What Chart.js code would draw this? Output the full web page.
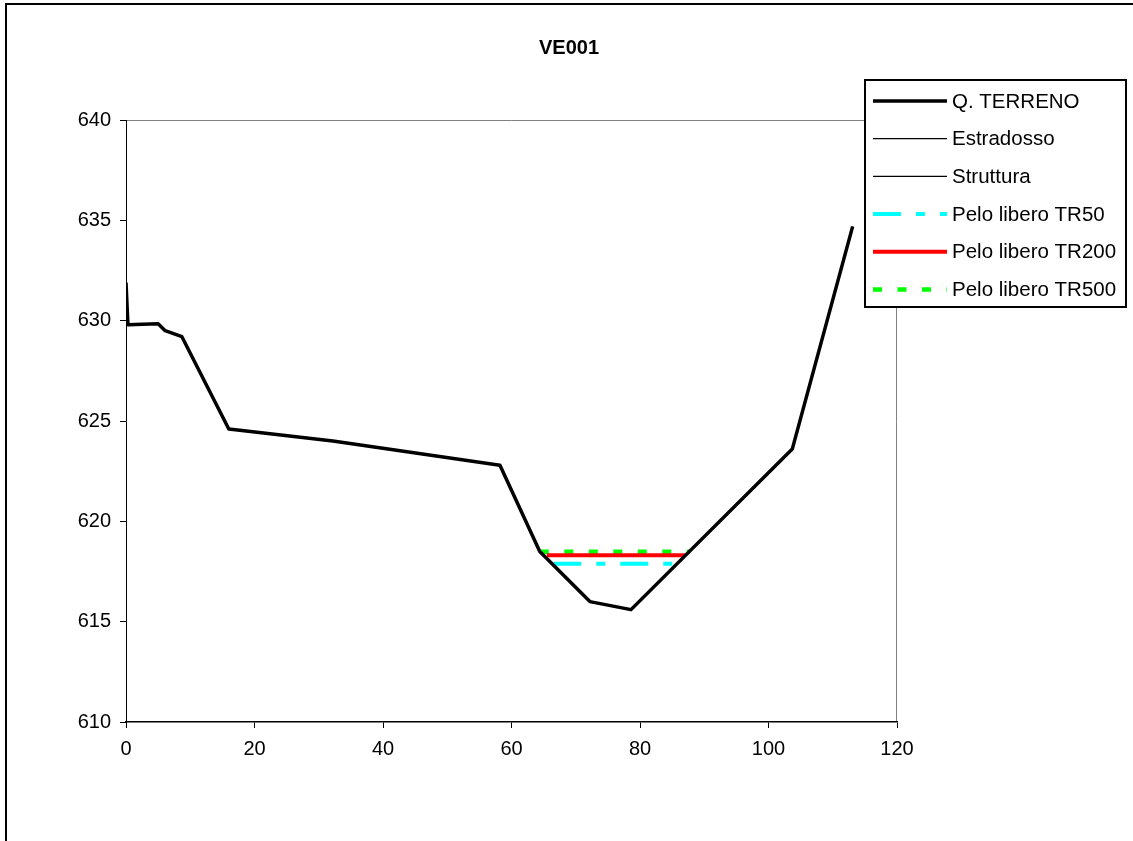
<!DOCTYPE html>
<html>
<head>
<meta charset="utf-8">
<script src="https://cdn.jsdelivr.net/npm/chart.js@4/dist/chart.umd.min.js"></script>
<style>
  html, body { margin: 0; padding: 0; background: #fff; }
  #wrap { width: 1133px; height: 841px; position: relative; }
</style>
</head>
<body>
<div id="wrap"><canvas id="sezione" width="1133" height="841"></canvas></div>
<script>
/* sezione VE001 */
const titolo = "VE001";

const terrenoX = [0, 0.3, 5.0, 6.1, 8.7, 16.0, 32.2, 58.2, 64.4, 72.2, 78.6, 103.7, 113.1];
const terrenoY = [631.9, 629.8, 629.85, 629.5, 629.2, 624.6, 624.0, 622.8, 618.5, 616.0, 615.6, 623.6, 634.7];

const tr50X = [66.5, 85.2];
const tr50Y = [617.88, 617.88];
const tr200X = [65.5, 87.0];
const tr200Y = [618.31, 618.31];
const tr500X = [64.4, 87.7];
const tr500Y = [618.48, 618.48];

const xTicks = [0, 20, 40, 60, 80, 100, 120];
const yTicks = [610, 615, 620, 625, 630, 635, 640];

const pts = (xs, ys) => xs.map((x, i) => ({ x, y: ys[i] }));

Chart.defaults.font.family = "'Liberation Sans', Arial, sans-serif";
Chart.defaults.font.size = 20;
Chart.defaults.color = "#000";

/* cornice, titolo, bordo area grafico */
const decor = {
  id: "decor",
  beforeDraw(chart) {
    const c = chart.ctx, a = chart.chartArea;
    c.save();
    c.fillStyle = "#fff";
    c.fillRect(0, 0, chart.width, chart.height);
    c.strokeStyle = "#000";
    c.lineWidth = 2;
    c.beginPath();
    c.moveTo(6, chart.height);
    c.lineTo(6, 4);
    c.lineTo(chart.width, 4);
    c.stroke();
    c.strokeStyle = "#808080";
    c.lineWidth = 1;
    c.beginPath();
    c.moveTo(a.left, a.top + 0.5);
    c.lineTo(a.right - 0.5, a.top + 0.5);
    c.lineTo(a.right - 0.5, a.bottom);
    c.stroke();
    c.fillStyle = "#000";
    c.font = "bold 20px 'Liberation Sans', Arial";
    c.textAlign = "center";
    c.textBaseline = "middle";
    c.fillText(titolo, 569, 48);
    c.restore();
  }
};

/* legenda a destra, sovrapposta */
const legenda = {
  id: "legenda",
  afterDraw(chart) {
    const c = chart.ctx;
    const bx = 865, by = 80, bw = 261, bh = 227;
    c.save();
    c.fillStyle = "#fff";
    c.fillRect(bx, by, bw, bh);
    c.strokeStyle = "#000";
    c.lineWidth = 2;
    c.strokeRect(bx, by, bw, bh);
    chart.data.datasets.forEach((ds, i) => {
      const y = 101 + i * 37.7;
      c.strokeStyle = ds.borderColor;
      c.lineWidth = ds.borderWidth;
      c.setLineDash(ds.borderDash || []);
      c.beginPath();
      c.moveTo(873, y);
      c.lineTo(947, y);
      c.stroke();
      c.setLineDash([]);
      c.fillStyle = "#000";
      c.font = "20.5px 'Liberation Sans', Arial";
      c.textAlign = "left";
      c.textBaseline = "middle";
      c.fillText(ds.label, 952, y + 1);
    });
    c.restore();
  }
};

new Chart(document.getElementById("sezione"), {
  type: "line",
  data: {
    datasets: [
      { label: "Q. TERRENO", data: pts(terrenoX, terrenoY), borderColor: "#000", borderWidth: 3.5 },
      { label: "Estradosso", data: [], borderColor: "#000", borderWidth: 1.2 },
      { label: "Struttura", data: [], borderColor: "#000", borderWidth: 1.2 },
      { label: "Pelo libero TR50", data: pts(tr50X, tr50Y), borderColor: "#00ffff", borderWidth: 4, borderDash: [28, 15, 9, 15] },
      { label: "Pelo libero TR200", data: pts(tr200X, tr200Y), borderColor: "#ff0000", borderWidth: 4 },
      { label: "Pelo libero TR500", data: pts(tr500X, tr500Y), borderColor: "#00ff00", borderWidth: 4.5, borderDash: [9, 15.5] }
    ].map(d => Object.assign({ pointRadius: 0, tension: 0, fill: false, borderJoinStyle: "round" }, d))
  },
  options: {
    responsive: false,
    animation: false,
    events: [],
    layout: { padding: { left: 0, top: 120, right: 236, bottom: 79 } },
    plugins: { legend: { display: false }, title: { display: false }, tooltip: { enabled: false } },
    scales: {
      x: {
        type: "linear",
        min: 0, max: 120,
        afterBuildTicks: s => { s.ticks = xTicks.map(v => ({ value: v })); },
        afterFit: s => { s.height = 40; },
        grid: { display: true, drawOnChartArea: false, drawTicks: true, tickLength: 6, color: "#000" },
        border: { display: true, color: "#000", width: 1.5 },
        ticks: { padding: 9, maxRotation: 0 }
      },
      y: {
        min: 610, max: 640,
        afterBuildTicks: s => { s.ticks = yTicks.map(v => ({ value: v })); },
        afterFit: s => { s.width = 126; },
        grid: { display: true, drawOnChartArea: false, drawTicks: true, tickLength: 6, color: "#000" },
        border: { display: true, color: "#000", width: 1 },
        ticks: { padding: 9 }
      }
    }
  },
  plugins: [decor, legenda]
});
</script>
</body>
</html>
